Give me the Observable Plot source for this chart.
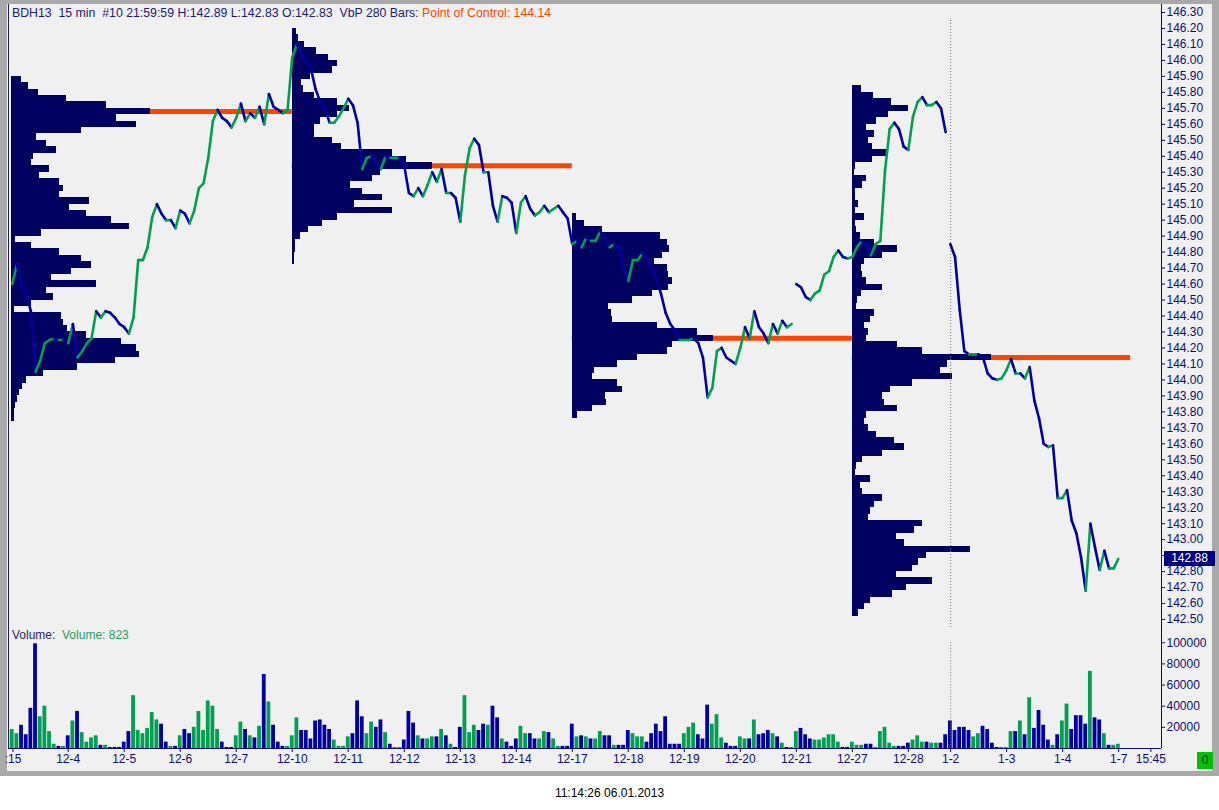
<!DOCTYPE html>
<html><head><meta charset="utf-8">
<script src="https://cdn.jsdelivr.net/npm/d3@7"></script>
<script src="https://cdn.jsdelivr.net/npm/@observablehq/plot@0.6"></script>
<style>
body{margin:0;background:#fff;}
#wrap{position:relative;width:1219px;height:810px;overflow:hidden;font-family:"Liberation Sans",Arial,sans-serif;font-size:12px;}
#frame{position:absolute;left:0;top:0;width:1219px;height:776px;background:#a9a9a9;}
#panel{position:absolute;left:7px;top:4px;width:1205px;height:767px;background:#f0f0f0;}
.abs{position:absolute;white-space:pre;line-height:14px;}
</style></head><body>
<div id="wrap">
  <div id="frame"></div><div id="panel"></div>
  <div id="price" class="abs" style="left:0;top:4px"></div>
  <div id="vol" class="abs" style="left:0;top:632px"></div>
  <div class="abs" style="left:12px;top:6px;color:#1a1a70;font-size:12.3px">BDH13  15 min  #10 21:59:59 H:142.89 L:142.83 O:142.83  VbP 280 Bars: <span style="color:#ff4500">Point of Control: 144.14</span></div>
  <div class="abs" style="left:12px;top:628px;color:#302070">Volume:  <span style="color:#20a060">Volume: 823</span></div>
  <div id="last" class="abs" style="left:1164px;width:51px;height:15px;background:#000080;color:#fff;text-align:center;line-height:15px"></div>
  <div class="abs" style="left:1197px;top:752px;width:16px;height:17px;background:#00c000;color:#002000;text-align:center;line-height:17px">0</div>
  <div class="abs" style="left:0;top:786px;width:1219px;text-align:center;color:#000">11:14:26 06.01.2013</div>
</div>
<script>
// ---------- data ----------
const dayLabels = [":15","12-4","12-5","12-6","12-7","12-10","12-11","12-12","12-13","12-14","12-17","12-18","12-19","12-20","12-21","12-27","12-28","1-2","1-3","1-4","1-7","15:45"];
const dayPos    = [-0.986,0,1,2,3,4,5,6,7,8,9,10,11,12,13,14,15,15.755,16.755,17.755,18.755,19.33];
const priceTicks = [142.5,142.6,142.7,142.8,142.9,143.0,143.1,143.2,143.3,143.4,143.5,143.6,143.7,143.8,143.9,144.0,144.1,144.2,144.3,144.4,144.5,144.6,144.7,144.8,144.9,145.0,145.1,145.2,145.3,145.4,145.5,145.6,145.7,145.8,145.9,146.0,146.1,146.2,146.3];
const hiddenTick = 142.9; // label covered by the last-price box
const volTicks = [20000,40000,60000,80000,100000];

// closes sampled 12 per session day, starting 12-3 afternoon
const closes = [
144.60,144.72,144.59,144.54,144.43,144.05,144.12,144.23,144.25,144.26,144.25,144.25,
144.23,144.35,144.14,144.18,144.23,144.26,144.43,144.39,144.43,144.42,144.39,144.35,
144.33,144.29,144.39,144.75,144.75,144.83,145.02,145.10,145.04,145.00,145.00,144.95,
145.06,145.04,144.98,145.06,145.20,145.23,145.39,145.62,145.69,145.64,145.62,145.58,
145.64,145.73,145.62,145.67,145.64,145.71,145.60,145.79,145.71,145.69,145.67,145.69,
146.02,146.10,146.04,145.99,145.95,145.82,145.74,145.70,145.61,145.61,145.65,145.70,
145.76,145.72,145.61,145.32,145.39,145.40,145.36,145.32,145.40,145.39,145.39,145.39,
145.34,145.17,145.15,145.20,145.15,145.22,145.30,145.24,145.32,145.17,145.17,145.14,
144.99,145.28,145.45,145.51,145.47,145.30,145.30,145.09,144.99,145.15,145.14,145.11,
144.92,145.11,145.15,145.07,145.03,145.05,145.09,145.05,145.07,145.09,145.05,145.01,
144.85,144.87,144.83,144.89,144.87,144.87,144.93,144.89,144.83,144.85,144.83,144.70,
144.62,144.75,144.75,144.79,144.77,144.70,144.64,144.54,144.42,144.35,144.31,144.25,
144.25,144.25,144.26,144.23,144.14,143.89,143.95,144.18,144.20,144.14,144.12,144.10,
144.20,144.33,144.26,144.43,144.33,144.29,144.23,144.35,144.29,144.37,144.33,144.35,
144.60,144.58,144.52,144.50,144.54,144.56,144.66,144.68,144.77,144.81,144.77,144.76,
144.77,144.83,144.87,144.85,144.78,144.85,144.87,145.31,145.57,145.61,145.57,145.46,
145.44,145.65,145.74,145.77,145.72,145.72,145.74,145.70,145.55,144.85,144.77,144.44,
144.18,144.16,144.16,144.16,144.14,144.04,144.01,144.00,144.01,144.06,144.13,144.04,
144.04,144.01,144.08,143.87,143.76,143.60,143.58,143.59,143.26,143.26,143.31,143.12,
143.04,142.89,142.68,143.10,142.95,142.81,142.93,142.82,142.82,142.88];
const sessionGaps = [168, 201];

// volume in thousands, same sampling
const volumeK = [
18,14,22,13,38,99,30,40,16,4,2,2,
12,26,35,15,6,10,12,3,3,1,1,1,
6,16,50,17,14,19,34,27,23,6,2,2,
12,18,14,20,35,17,45,40,18,6,1,1,
12,25,18,12,10,21,70,44,22,6,2,2,
12,29,17,17,9,26,27,22,18,8,2,2,
11,14,45,30,14,25,20,27,15,4,1,1,
8,35,24,12,9,9,11,11,18,12,4,1,
20,50,15,22,17,23,22,40,29,9,6,2,
9,21,14,14,9,9,16,15,9,2,2,2,
23,11,12,11,9,9,16,12,12,3,3,3,
17,14,11,11,6,14,23,16,30,4,4,4,
14,20,24,13,9,41,23,32,10,5,2,2,
11,9,9,27,13,14,17,14,11,5,1,1,
16,19,13,9,8,8,10,13,13,6,1,1,
6,3,3,4,4,1,16,20,5,2,2,2,
5,8,12,6,6,5,5,5,13,26,17,20,
20,17,11,14,21,18,5,1,1,1,16,16,
26,13,48,19,36,22,8,3,13,26,42,18,
31,31,23,73,29,27,14,3,3,4];

// volume-at-price profiles (rows 0.04 apart, from top price downward)
const vpStart = [-1.01, 4, 9, 14];
const vpEnd   = [4, 9, 14, 18.97];
const vpTop   = [145.88, 146.18, 145.02, 145.82];
const vp1 = [10,17,27,55,95,139,105,125,70,25,35,45,22,20,38,28,48,52,48,78,58,75,100,118,30,4,20,48,70,80,60,40,85,35,42,20,3,50,52,56,75,110,125,128,104,66,32,15,11,8,6,4,3,3];
const vp2 = [4,6,12,24,36,45,40,18,9,11,22,45,57,45,28,22,22,40,49,100,114,140,88,80,58,70,90,62,100,45,30,16,8,3,3,2,2];
const vp3 = [4,12,30,88,95,97,90,82,95,96,100,96,80,60,36,39,40,85,125,141,100,95,65,45,22,20,45,50,33,34,20,5];
const vp4 = [9,21,39,56,36,24,14,22,16,20,34,20,3,2,14,10,3,3,6,3,12,3,4,8,22,45,30,12,9,10,14,30,9,5,4,22,18,12,16,14,45,70,139,95,88,100,60,38,30,32,45,14,12,16,24,42,52,30,10,4,3,18,8,10,30,22,18,16,70,62,44,52,118,74,66,60,44,80,54,40,18,12,6];
const pocPrice = [145.68, 145.34, 144.26, 144.14];
const lastPrice = 142.88;

// ---------- styling ----------
const GREEN = "#00a050", BLUE = "#0000a0", NAVY = "#000060", ORANGE = "#ff4500", AXIS = "#0c0c78";
const X_DOMAIN = [-1.066, 19.52];
const FONT = '"Liberation Sans", Arial, sans-serif';
const tOf = i => -1 + i / 12;

const segs = [];
for (let i = 1; i < closes.length; i++) {
  if (sessionGaps.includes(i)) continue;
  segs.push({x1: tOf(i-1), y1: closes[i-1], x2: tOf(i), y2: closes[i], up: closes[i] >= closes[i-1]});
}
const vols = volumeK.map((v, i) => ({t: tOf(i), v: v * 1000, up: i === 0 ? true : closes[i] >= closes[i-1]}));
const rows = [];
[vp1, vp2, vp3, vp4].forEach((arr, k) => arr.forEach((w, j) => {
  const p = vpTop[k] - j * 0.04;
  rows.push({x1: vpStart[k], x2: vpStart[k] + w / 56, y1: p - 0.02, y2: p + 0.02});
}));
const pocs = pocPrice.map((p, k) => ({p, s: vpStart[k], e: vpEnd[k]}));
const labelMap = new Map(dayPos.map((d, i) => [d, dayLabels[i]]));

const priceChart = Plot.plot({
  width: 1219, height: 628, marginLeft: 8, marginRight: 58, marginTop: 0, marginBottom: 0,
  x: {domain: X_DOMAIN, axis: null},
  y: {domain: [142.4186, 146.3501], axis: null},
  style: {background: "transparent", overflow: "visible", fontFamily: FONT, fontSize: "12px", color: AXIS},
  marks: [
    Plot.ruleY(pocs, {y: "p", x1: "s", x2: "e", stroke: ORANGE, strokeWidth: 5}),
    Plot.rect(rows, {x1: "x1", x2: "x2", y1: "y1", y2: "y2", fill: NAVY, inset: 0, shapeRendering: "crispEdges"}),
    Plot.ruleX([15.755], {y1: 146.25, y2: 142.45, stroke: "#707070", strokeDasharray: "1,2"}),
    Plot.link(segs, {x1: "x1", y1: "y1", x2: "x2", y2: "y2", stroke: d => d.up ? GREEN : BLUE, strokeWidth: 2.6, strokeLinecap: "round"}),
    Plot.ruleX([X_DOMAIN[0]], {stroke: "#202050"}),
    Plot.ruleX([X_DOMAIN[1]], {stroke: AXIS}),
    Plot.axisY(priceTicks, {anchor: "right", label: null, tickSize: 3, tickPadding: 2, tickFormat: d => d === hiddenTick ? "" : d.toFixed(2)})
  ]
});
document.getElementById("price").appendChild(priceChart);

const volChart = Plot.plot({
  width: 1219, height: 138, marginLeft: 8, marginRight: 58, marginTop: 0, marginBottom: 22,
  x: {domain: X_DOMAIN, axis: null},
  y: {domain: [0, 109700], axis: null},
  style: {background: "transparent", overflow: "visible", fontFamily: FONT, fontSize: "12px", color: AXIS},
  marks: [
    Plot.rect(vols, {x1: d => d.t - 0.034, x2: d => d.t + 0.034, y1: d => 0, y2: "v", fill: d => d.up ? GREEN : BLUE, inset: 0}),
    Plot.ruleX([15.755], {y1: 100000, y2: 0, stroke: "#707070", strokeDasharray: "1,2"}),
    Plot.ruleX([X_DOMAIN[0]], {stroke: "#202050"}),
    Plot.ruleX([X_DOMAIN[1]], {stroke: AXIS}),
    Plot.ruleY([0], {stroke: AXIS}),
    Plot.axisY(volTicks, {anchor: "right", label: null, tickSize: 3, tickPadding: 2, tickFormat: d => String(d)}),
    Plot.axisX(dayPos, {anchor: "bottom", label: null, tickSize: 4, tickPadding: 2, tickFormat: d => labelMap.get(d)})
  ]
});
document.getElementById("vol").appendChild(volChart);

const ly = priceChart.scale("y").apply(lastPrice);
const last = document.getElementById("last");
last.style.top = (4 + ly - 7.5) + "px";
last.textContent = lastPrice.toFixed(2);
</script>
</body></html>
